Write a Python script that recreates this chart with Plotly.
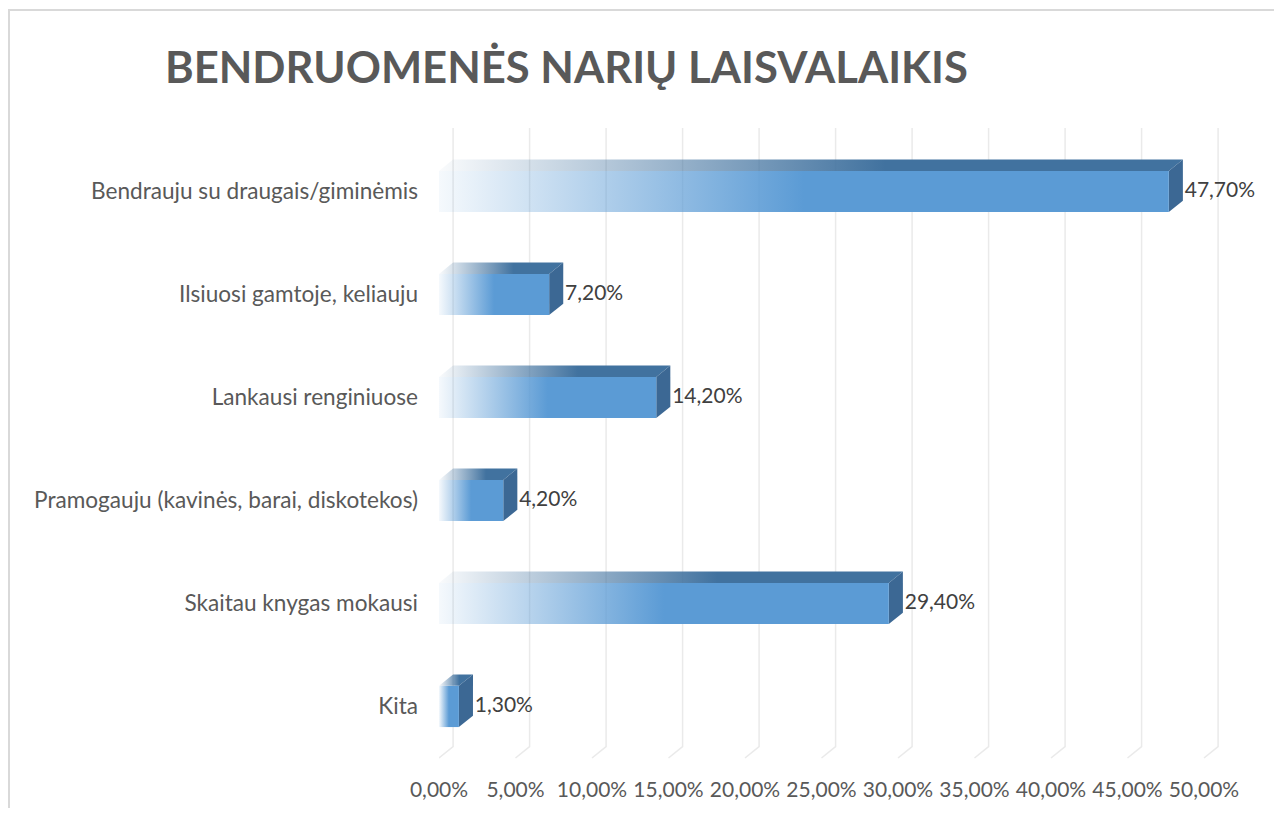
import plotly.graph_objects as go

categories = [
    "Bendrauju su draugais/giminėmis",
    "Ilsiuosi gamtoje, keliauju",
    "Lankausi renginiuose",
    "Pramogauju (kavinės, barai, diskotekos)",
    "Skaitau knygas mokausi",
    "Kita",
]
values = [47.7, 7.2, 14.2, 4.2, 29.4, 1.3]
value_labels = ["47,70%", "7,20%", "14,20%", "4,20%", "29,40%", "1,30%"]
tick_values = [0, 5, 10, 15, 20, 25, 30, 35, 40, 45, 50]
tick_labels = ["0,00%", "5,00%", "10,00%", "15,00%", "20,00%", "25,00%",
               "30,00%", "35,00%", "40,00%", "45,00%", "50,00%"]

# 3d depth of the bars / back wall, in axis units
DX = 0.92
DY = 0.11
HALF = 0.2
FLOOR = 5.5
TOP = -0.6165

BAR = "#5B9BD5"
TOP_FACE = "#41729F"
SIDE_FACE = "#3C6894"

fig = go.Figure()

# back wall gridlines with the slanted floor part
gx, gy = [], []
for t in tick_values:
    gx += [t, t + DX, t + DX, None]
    gy += [FLOOR, FLOOR - DY, TOP, None]
fig.add_trace(go.Scatter(x=gx, y=gy, mode="lines",
                         line=dict(color="#EAEAEA", width=1.5),
                         hoverinfo="skip", showlegend=False))

for i, (cat, v) in enumerate(zip(categories, values)):
    y0, y1 = i - HALF, i + HALF
    # top face
    fig.add_trace(go.Scatter(
        x=[0, DX, v + DX, v, 0], y=[y0, y0 - DY, y0 - DY, y0, y0],
        mode="lines", line=dict(width=0), fill="toself",
        fillgradient=dict(type="horizontal",
                          colorscale=[[0, "rgba(65,114,159,0.03)"],
                                      [0.6, TOP_FACE], [1, TOP_FACE]]),
        hoverinfo="skip", showlegend=False))
    # side face
    fig.add_trace(go.Scatter(
        x=[v, v + DX, v + DX, v, v], y=[y0, y0 - DY, y1 - DY, y1, y0],
        mode="lines", line=dict(width=0), fill="toself", fillcolor=SIDE_FACE,
        hoverinfo="skip", showlegend=False))
    # front face
    fig.add_trace(go.Scatter(
        x=[0, v, v, 0, 0], y=[y0, y0, y1, y1, y0],
        mode="lines", line=dict(width=0), fill="toself",
        fillgradient=dict(type="horizontal",
                          colorscale=[[0, "rgba(91,155,213,0.06)"],
                                      [0.5, BAR], [1, BAR]]),
        name=cat, hoverinfo="name", showlegend=False))

# data labels
fig.add_trace(go.Scatter(
    x=[v + DX + 0.12 for v in values], y=list(range(len(values))),
    mode="text", text=value_labels, textposition="middle right",
    textfont=dict(family="Lato", size=21, color="#404040"),
    hoverinfo="skip", showlegend=False, cliponaxis=False))

# page body has an 8px margin, so the figure is a bit smaller than the window
W, H = 1266, 800
L, T = 431, 120
R, B = W - 1217, H - 751


def px_x(p):
    return (p - L) / (W - L - R)


def px_y(p):
    return 1 - (p - T) / (H - T - B)


fig.add_shape(type="rect", xref="paper", yref="paper",
              x0=px_x(1), x1=px_x(1300), y0=px_y(2), y1=px_y(830),
              line=dict(color="#D9D9D9", width=2), fillcolor="rgba(0,0,0,0)")

fig.update_layout(
    width=W, height=H,
    margin=dict(l=L, r=R, t=T, b=B),
    paper_bgcolor="white", plot_bgcolor="white",
    font=dict(family="Lato", size=21, color="#595959"),
    title=dict(text="<b>BENDRUOMENĖS NARIŲ LAISVALAIKIS</b>",
               xref="container", yref="container",
               x=157 / W, xanchor="left", y=1 - 60 / H, yanchor="middle",
               font=dict(family="Lato", size=43.6, color="#595959")),
    xaxis=dict(range=[0, (W - L - R) / 15.3], tickvals=tick_values,
               ticktext=tick_labels, showgrid=False, zeroline=False,
               showline=False, ticks="", ticklabelstandoff=16,
               automargin=False, fixedrange=True),
    yaxis=dict(range=[FLOOR + 0.01, TOP], tickvals=list(range(len(categories))),
               ticktext=categories, showgrid=False, zeroline=False,
               showline=False, ticks="", ticklabelstandoff=20,
               tickfont=dict(size=22.6), automargin=False, fixedrange=True),
)

fig.write_html("out.html")
